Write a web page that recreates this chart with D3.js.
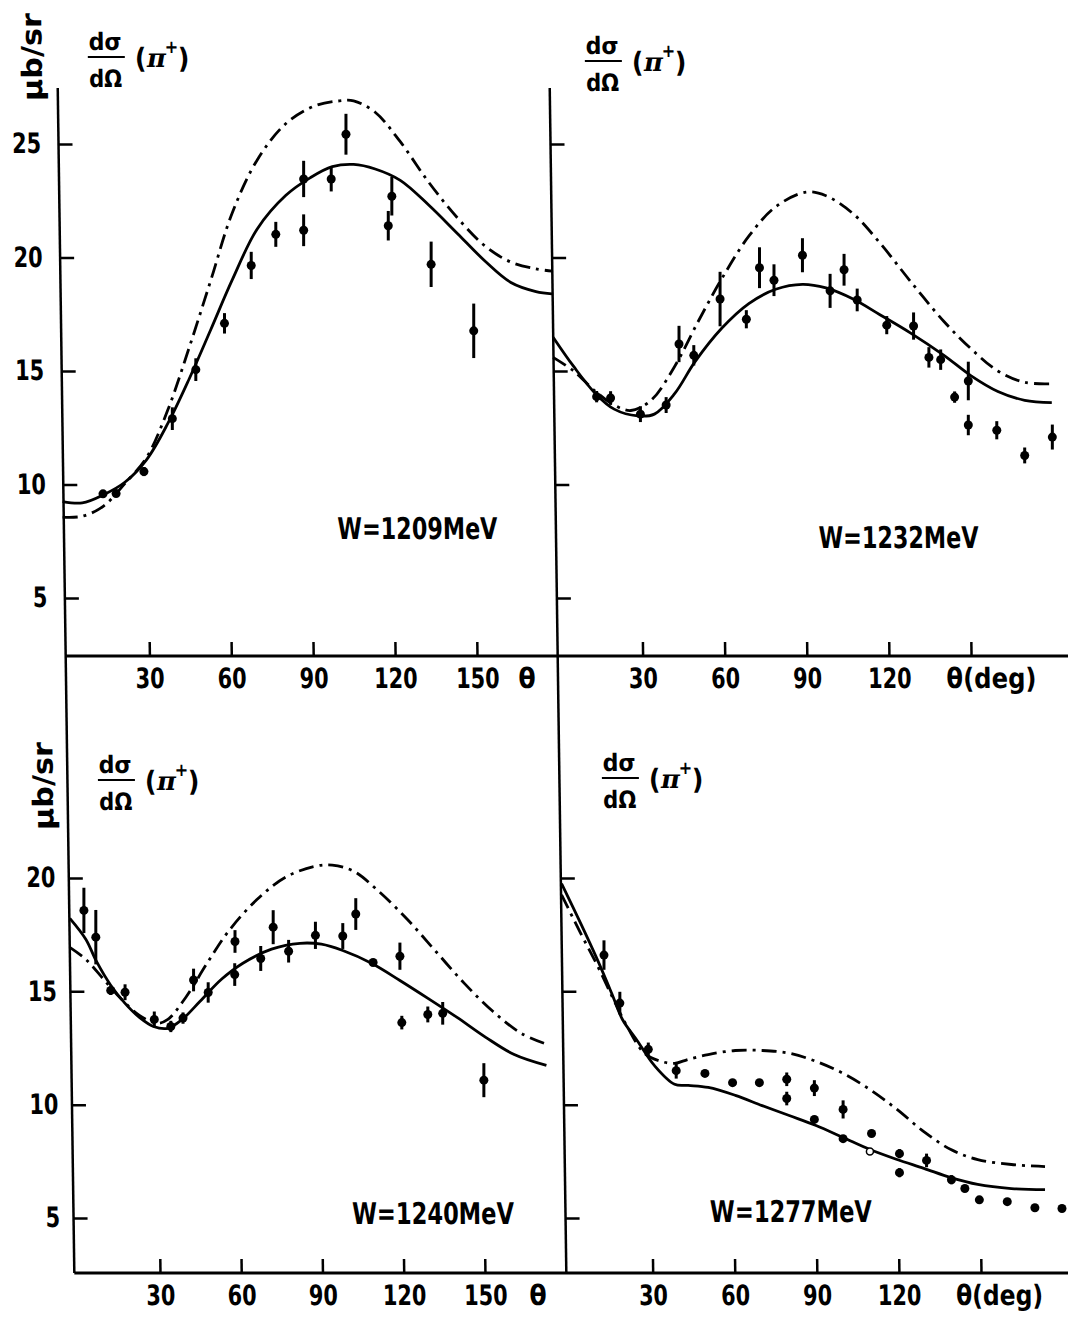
<!DOCTYPE html>
<html>
<head>
<meta charset="utf-8">
<script src="https://cdn.jsdelivr.net/npm/d3@7"></script>
<style>
  body { margin: 0; background: #fff; }
  svg { display: block; }
</style>
</head>
<body>
<div id="chart"></div>
<script>
// Curves are [theta (deg), dsigma/dOmega (mub/sr)].
// Points are [theta, value, half error bar].

// W = 1209 MeV
const solid1209 = [[-1.8,9.25],[5.4,9.19],[13.2,9.55],[21,10.1],[29,11.1],[36.8,12.7],[44.6,14.66],[52.5,16.83],[60.3,19.0],[69.5,21.26],[80,22.74],[89,23.52],[97,24.0],[104.8,24.1],[112.7,23.9],[121.9,23.4],[132.4,22.3],[142.8,21.06],[153.3,19.8],[162.4,18.9],[171.6,18.5],[177.5,18.4]];
const dash1209 = [[-1.8,8.56],[5.4,8.6],[13.2,9.05],[21,10.04],[29,11.2],[36.8,13.3],[44.6,16.04],[52.5,19.0],[60.3,21.95],[69.5,24.3],[80,25.9],[90.4,26.67],[99.6,26.9],[104.8,26.9],[112.7,26.4],[121.9,25.1],[132.4,23.3],[142.8,21.75],[153.3,20.47],[162.4,19.8],[171.6,19.5],[177.5,19.4]];
const pts1209 = [[13,9.59,0.15],[17.8,9.6,0.15],[28,10.57,0.2],[38.4,12.9,0.5],[47,15.06,0.5],[57.5,17.1,0.45],[67.3,19.65,0.6],[76.3,21.02,0.55],[86.5,21.2,0.7],[86.5,23.46,0.8],[96.6,23.46,0.55],[102,25.43,0.9],[117.5,21.4,0.65],[118.8,22.7,0.85],[133.2,19.7,1.0],[148.8,16.77,1.2]];

// W = 1232 MeV
const solid1232 = [[-2.7,16.49],[4.8,15.2],[12.8,14.0],[19.6,13.32],[28.2,13.02],[34.3,13.1],[41.7,14.0],[49.1,15.4],[58.9,16.88],[68.8,17.97],[78.6,18.6],[88.4,18.82],[97,18.66],[106.9,18.17],[116.7,17.48],[127.8,16.68],[140.1,15.69],[149.9,14.8],[159.8,14.1],[169.6,13.71],[179.5,13.61]];
const dash1232 = [[-2.7,15.6],[4.8,15.0],[12.8,14.1],[19.6,13.5],[25.7,13.26],[33.1,13.71],[41.7,15.2],[50.3,17.18],[58.9,19.06],[68.8,20.94],[78.6,22.23],[89.7,22.88],[97,22.72],[106.9,21.93],[116.7,20.64],[127.8,18.96],[140.1,17.18],[149.9,15.99],[159.8,15.0],[169.6,14.5],[179.5,14.44]];
const pts1232 = [[13.2,13.87,0.25],[18.3,13.81,0.3],[29.2,13.1,0.35],[38.6,13.5,0.35],[43.3,16.19,0.8],[48.7,15.69,0.45],[58.3,18.17,1.2],[67.9,17.28,0.4],[72.7,19.55,0.9],[78,19.0,0.7],[88.4,20.1,0.75],[98.5,18.53,0.75],[103.6,19.46,0.7],[108.4,18.13,0.5],[119.2,17.02,0.4],[129,16.98,0.6],[134.6,15.6,0.45],[138.9,15.5,0.45],[144,13.85,0.25],[149,14.56,0.85],[149,12.62,0.45],[159.4,12.39,0.4],[169.6,11.28,0.35],[179.7,12.09,0.55]];

// W = 1240 MeV
const solid1240 = [[-3.3,18.22],[2.6,17.3],[6.5,16.33],[11.8,15.27],[17.1,14.47],[22.4,13.85],[27.6,13.45],[32.9,13.37],[38.2,13.76],[44.8,14.56],[52.7,15.53],[60.6,16.24],[71.2,16.86],[81.7,17.12],[89.6,17.08],[97.5,16.8],[108.1,16.24],[118.6,15.48],[129.1,14.68],[139.7,13.85],[150.3,12.97],[160.8,12.21],[172.7,11.73]];
const dash1240 = [[-3.3,16.94],[2.6,16.41],[9.2,15.53],[15.8,14.65],[22.4,13.94],[29,13.59],[32.9,13.76],[39.5,14.73],[47.4,16.24],[55.3,17.65],[65.9,19.06],[76.4,20.04],[87,20.51],[93.6,20.57],[101.5,20.3],[110.7,19.42],[121.3,18.18],[131.8,16.77],[142.4,15.35],[152.9,14.12],[163.5,13.14],[172.7,12.67]];
const pts1240 = [[1.9,18.57,1.0],[6.3,17.39,1.2],[11.8,15.04,0.2],[17.1,14.96,0.35],[27.9,13.76,0.35],[34,13.45,0.25],[38.5,13.82,0.25],[42.4,15.5,0.5],[47.8,14.95,0.45],[57.7,17.2,0.5],[57.6,15.74,0.5],[67.2,16.45,0.55],[71.8,17.83,0.75],[77.5,16.77,0.5],[87.4,17.47,0.6],[97.5,17.44,0.57],[102.3,18.41,0.7],[108.7,16.27,0.15],[118.6,16.55,0.6],[119.3,13.62,0.3],[128.9,13.98,0.35],[134.4,14.03,0.5],[149.6,11.08,0.75]];

// W = 1277 MeV
const solid1277 = [[-3.3,19.75],[3.6,18.02],[9.7,16.42],[15.3,14.83],[18.9,13.77],[24.5,12.8],[30.6,11.73],[38,10.9],[43,10.85],[50.3,10.76],[60.2,10.41],[70,9.96],[79.9,9.52],[89.7,9.08],[99.6,8.55],[109.4,8.02],[119.3,7.58],[129.1,7.19],[139,6.78],[148.8,6.48],[161.1,6.3],[173.4,6.25]];
const dash1277 = [[-3.3,19.26],[3.6,17.58],[9.7,16.16],[15.3,14.74],[20.8,13.42],[27,12.27],[33.1,11.91],[38,11.82],[43,12.0],[50.3,12.21],[60.2,12.39],[70,12.39],[79.9,12.27],[89.7,11.91],[99.6,11.38],[109.4,10.67],[119.3,9.79],[129.1,8.81],[139,8.02],[148.8,7.58],[161.1,7.36],[173.4,7.27]];
const pts1277 = [[12.2,16.6,0.65],[18,14.48,0.5],[28.4,12.44,0.3],[38.6,11.5,0.35],[49.1,11.38,0.15],[59.2,10.97,0],[69,10.97,0.15],[79,11.12,0.3],[79,10.27,0.3],[89.1,10.73,0.35],[89.1,9.35,0.1],[99.6,9.79,0.4],[99.6,8.5,0.1],[110,8.73,0],[120.2,7.84,0.2],[120.2,7.0,0.2],[130.1,7.54,0.3],[139.2,6.69,0.2],[144.1,6.3,0],[149.4,5.8,0],[159.6,5.72,0],[169.7,5.45,0],[179.6,5.42,0]];
const open1277 = [[109.4,7.93]];

// Ticks
const xTicks = [30, 60, 90, 120, 150];
const yTicksTop = [5, 10, 15, 20, 25];
const yTicksBottom = [5, 10, 15, 20];

const W = 1068, H = 1328;
const SKEW = 0.014;              // scan is sheared: verticals lean right going down
const INK = '#000';
const FONT = "'DejaVu Sans Condensed', 'DejaVu Sans', sans-serif";
const SERIF = "'DejaVu Serif', 'Liberation Serif', serif";
const DIGIT_W = 14.5;            // advance per character in tick labels

const panels = [
  { label: 'W=1209MeV', solid: solid1209, dash: dash1209, pts: pts1209, open: [],
    x0: 67.5, k: 2.73, axisY: 656, yDomain: [5, 25], yRange: [598, 144], yTicks: yTicksTop,
    axisX: 56.5, yLabelPad: 17.5, rightPanel: false,
    thetaText: 'θ', thetaX: 517.5, thetaLen: 0,
    wX: 330, wY: 539, wLen: 160, titleX: 87, titleY: 57, unit: [31, 57] },
  { label: 'W=1232MeV', solid: solid1232, dash: dash1232, pts: pts1232, open: [],
    x0: 560.5, k: 2.737, axisY: 656, yDomain: [5, 25], yRange: [598, 144], yTicks: yTicksTop,
    axisX: 548.5, yLabelPad: 0, rightPanel: true,
    thetaText: 'θ(deg)', thetaX: 937, thetaLen: 90,
    wX: 811, wY: 548, wLen: 160, titleX: 584, titleY: 61, unit: null },
  { label: 'W=1240MeV', solid: solid1240, dash: dash1240, pts: pts1240, open: [],
    x0: 78.75, k: 2.708, axisY: 1273, yDomain: [5, 20], yRange: [1218, 878], yTicks: yTicksBottom,
    axisX: 56.5, yLabelPad: 13.5, rightPanel: false,
    thetaText: 'θ', thetaX: 520, thetaLen: 0,
    wX: 335, wY: 1224, wLen: 162, titleX: 87, titleY: 780, unit: [32, 786] },
  { label: 'W=1277MeV', solid: solid1277, dash: dash1277, pts: pts1277, open: open1277,
    x0: 570.6, k: 2.736, axisY: 1273, yDomain: [5, 20], yRange: [1218, 878], yTicks: yTicksBottom,
    axisX: 548.5, yLabelPad: 0, rightPanel: true,
    thetaText: 'θ(deg)', thetaX: 938, thetaLen: 87,
    wX: 693, wY: 1222, wLen: 162, titleX: 591, titleY: 778, unit: null }
];

const svg = d3.select('#chart').append('svg')
  .attr('width', W).attr('height', H)
  .style('font-family', FONT)
  .style('font-weight', 'bold');

// frame, axes and text live in a sheared group; data marks are in image space
const frame = svg.append('g')
  .attr('transform', `skewX(${Math.atan(SKEW) * 180 / Math.PI})`);
const marks = svg.append('g');

// Frame lines
frame.append('line').attr('x1', 56.5).attr('x2', 56.5).attr('y1', 88).attr('y2', 1273)
  .attr('stroke', INK).attr('stroke-width', 2.5);
frame.append('line').attr('x1', 548.5).attr('x2', 548.5).attr('y1', 88).attr('y2', 1273)
  .attr('stroke', INK).attr('stroke-width', 2.5);
frame.append('line').attr('x1', 56.5).attr('x2', 1070).attr('y1', 656).attr('y2', 656)
  .attr('stroke', INK).attr('stroke-width', 3);
frame.append('line').attr('x1', 56.5).attr('x2', 1070).attr('y1', 1273).attr('y2', 1273)
  .attr('stroke', INK).attr('stroke-width', 3);

function styleAxis(ax) {
  ax.select('.domain').remove();
  ax.selectAll('line').attr('stroke', INK).attr('stroke-width', 2.5);
  ax.selectAll('text')
    .style('font-family', FONT)
    .style('font-size', '28px')
    .attr('fill', INK)
    .attr('textLength', function () { return this.textContent.length * DIGIT_W || null; })
    .attr('lengthAdjust', 'spacingAndGlyphs');
}

function drawTitle(x, y) {
  const t = frame.append('g').attr('transform', `translate(${x},${y})`).attr('fill', INK);
  t.append('text').attr('x', 1).attr('y', -7).attr('font-size', 24)
    .attr('textLength', 33).attr('lengthAdjust', 'spacingAndGlyphs').text('dσ');
  t.append('line').attr('x1', 0).attr('x2', 37).attr('y1', 0).attr('y2', 0)
    .attr('stroke', INK).attr('stroke-width', 2.2);
  t.append('text').attr('x', 1).attr('y', 30).attr('font-size', 24)
    .attr('textLength', 33).attr('lengthAdjust', 'spacingAndGlyphs').text('dΩ');
  t.append('text').attr('x', 47).attr('y', 11).attr('font-size', 28).text('(');
  t.append('text').attr('x', 59).attr('y', 10).attr('font-size', 26)
    .style('font-family', SERIF).attr('font-style', 'italic').text('π');
  t.append('text').attr('x', 77).attr('y', -4).attr('font-size', 18).text('+');
  t.append('text').attr('x', 90).attr('y', 11).attr('font-size', 28).text(')');
}

panels.forEach(p => {
  const y = d3.scaleLinear().domain(p.yDomain).range(p.yRange);
  // data scale (image space) and axis scale (sheared frame)
  const x = d3.scaleLinear().domain([0, 150]).range([p.x0, p.x0 + 150 * p.k]);
  const shift = SKEW * p.axisY;
  const xa = d3.scaleLinear().domain([0, 150]).range([p.x0 - shift, p.x0 - shift + 150 * p.k]);

  // X axis ticks (pointing up) and labels below
  const xAxis = frame.append('g')
    .attr('transform', `translate(0,${p.axisY})`)
    .call(d3.axisBottom(xa)
      .tickValues(xTicks)
      .tickSizeInner(-14).tickSizeOuter(0).tickPadding(12)
      .tickFormat(d => (p.rightPanel && d === 150) ? '' : d));
  styleAxis(xAxis);

  frame.append('text')
    .attr('x', p.thetaX)
    .attr('y', p.axisY + 12).attr('dy', '0.71em')
    .attr('text-anchor', p.thetaLen ? 'start' : 'middle')
    .attr('font-size', 28).attr('fill', INK)
    .attr('textLength', p.thetaLen || null)
    .attr('lengthAdjust', 'spacingAndGlyphs')
    .text(p.thetaText);

  // Y axis ticks (pointing right), labels only on left panels
  const yAxis = frame.append('g')
    .attr('transform', `translate(${p.axisX},0)`)
    .call(d3.axisLeft(y)
      .tickValues(p.yTicks)
      .tickSizeInner(-14).tickSizeOuter(0).tickPadding(p.yLabelPad)
      .tickFormat(d => p.rightPanel ? '' : d));
  styleAxis(yAxis);

  // Caption and title
  frame.append('text')
    .attr('x', p.wX).attr('y', p.wY)
    .attr('font-size', 30).attr('fill', INK)
    .attr('textLength', p.wLen).attr('lengthAdjust', 'spacingAndGlyphs')
    .text(p.label);
  drawTitle(p.titleX, p.titleY);

  if (p.unit) {
    frame.append('text')
      .attr('transform', `translate(${p.unit[0]},${p.unit[1]}) rotate(-90)`)
      .attr('text-anchor', 'middle').attr('dy', '0.35em')
      .attr('font-size', 28).attr('fill', INK)
      .attr('textLength', 88).attr('lengthAdjust', 'spacingAndGlyphs')
      .text('μb/sr');
  }

  // Curves
  const line = d3.line()
    .x(d => x(d[0]))
    .y(d => y(d[1]))
    .curve(d3.curveCatmullRom.alpha(0.5));

  marks.append('path')
    .datum(p.solid)
    .attr('fill', 'none')
    .attr('stroke', INK)
    .attr('stroke-width', 2.8)
    .attr('d', line);

  marks.append('path')
    .datum(p.dash)
    .attr('fill', 'none')
    .attr('stroke', INK)
    .attr('stroke-width', 2.8)
    .attr('stroke-dasharray', '15,6,3,6')
    .attr('d', line);

  // Error bars and points
  marks.selectAll(null)
    .data(p.pts.filter(d => d[2] > 0))
    .join('line')
    .attr('x1', d => x(d[0])).attr('x2', d => x(d[0]))
    .attr('y1', d => y(d[1] - d[2])).attr('y2', d => y(d[1] + d[2]))
    .attr('stroke', INK).attr('stroke-width', 3);

  marks.selectAll(null)
    .data(p.pts)
    .join('circle')
    .attr('cx', d => x(d[0])).attr('cy', d => y(d[1]))
    .attr('r', 4.5).attr('fill', INK);

  marks.selectAll(null)
    .data(p.open)
    .join('circle')
    .attr('cx', d => x(d[0])).attr('cy', d => y(d[1]))
    .attr('r', 3.5).attr('fill', '#fff')
    .attr('stroke', INK).attr('stroke-width', 1.5);
});
</script>
</body>
</html>
